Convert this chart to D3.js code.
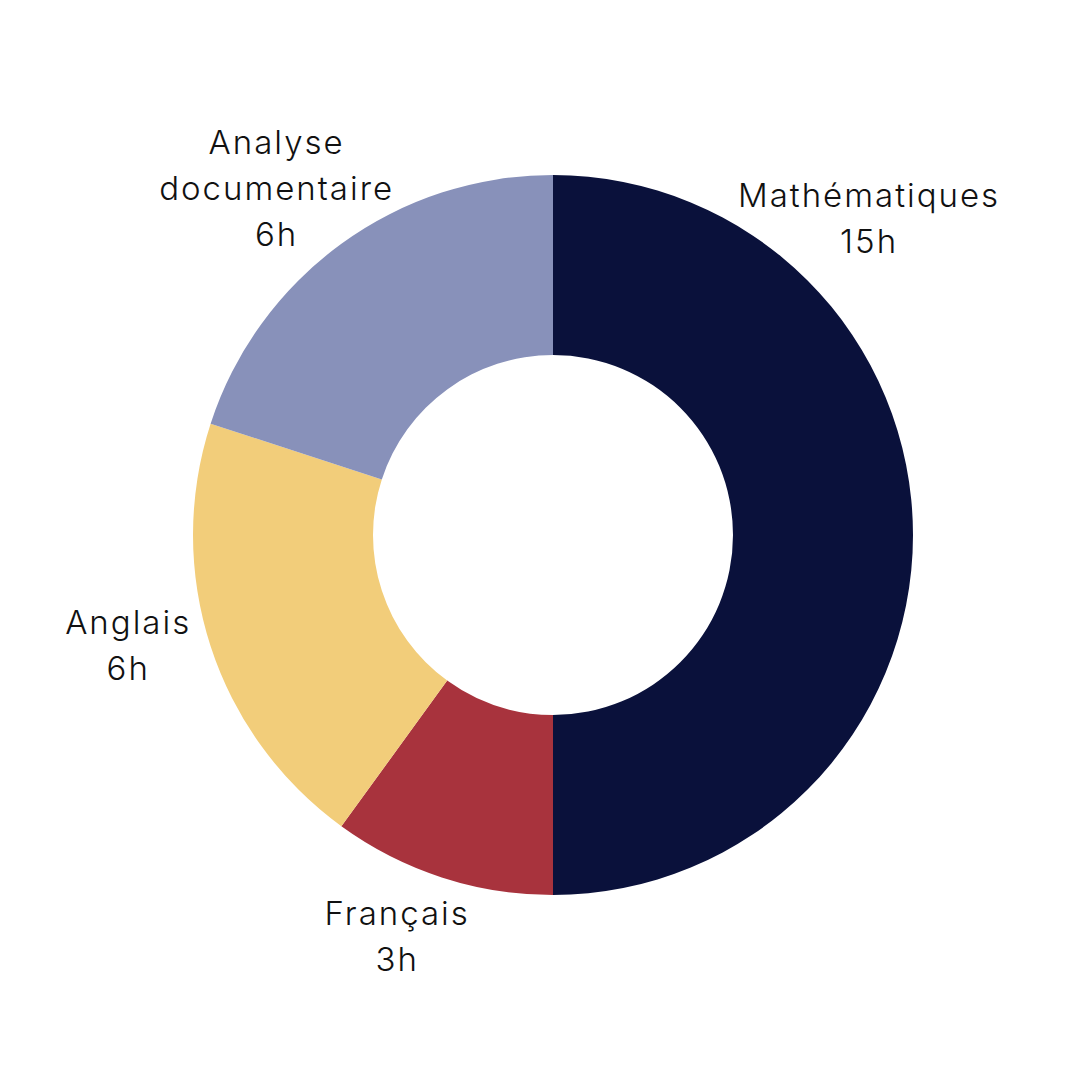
<!DOCTYPE html>
<html>
<head>
<meta charset="utf-8">
<script src="https://cdn.jsdelivr.net/npm/d3@7"></script>
<style>
  html, body { margin: 0; padding: 0; background: #fff; }
  svg text { font-family: "Inter", "Lato", sans-serif; font-weight: 300; fill: #111; letter-spacing: 2px; }
</style>
</head>
<body>
<div id="chart"></div>
<script>
// Data
const subjects = ["Mathématiques", "Français", "Anglais", "Analyse documentaire"];
const hours = [15, 3, 6, 6];
const labelLines = [["Mathématiques"], ["Français"], ["Anglais"], ["Analyse", "documentaire"]];
const colors = ["#0a113b", "#a8333d", "#f2cd7a", "#8891ba"];

// label placement tweaks (degrees off the slice middle, distance from centre)
const labelShift = [-45, 3.2, 3.4, -2.6];
const labelDist = [447, 431, 439, 443];

function drawDonut() {
    const width = 1080, height = 1080;
    const cx = 553, cy = 535;
    const outerR = 360, innerR = 180;

    const svg = d3.select("#chart")
        .append("svg")
        .attr("width", width)
        .attr("height", height)
        .append("g")
        .attr("transform", "translate(" + cx + "," + cy + ")");

    const data = subjects.map((s, i) => ({ subject: s, hours: hours[i], lines: labelLines[i], color: colors[i], i: i }));

    const pie = d3.pie().sort(null).value(d => d.hours);
    const arc = d3.arc().innerRadius(innerR).outerRadius(outerR);
    const arcs = pie(data);

    svg.selectAll("path")
        .data(arcs)
        .enter()
        .append("path")
        .attr("d", arc)
        .style("fill", d => d.data.color);

    const labelPos = d => {
        const a = (d.startAngle + d.endAngle) / 2 + labelShift[d.data.i] * Math.PI / 180;
        const r = labelDist[d.data.i];
        return [r * Math.sin(a), -r * Math.cos(a)];
    };

    const lineH = 46;
    const labels = svg.selectAll(".label")
        .data(arcs)
        .enter()
        .append("text")
        .attr("class", "label")
        .attr("text-anchor", "middle")
        .style("font-size", "33px")
        .attr("transform", d => "translate(" + labelPos(d) + ")");

    labels.each(function (d) {
        const lines = d.data.lines.concat([d.data.hours + "h"]);
        const t = d3.select(this);
        const y0 = -(lines.length - 1) * lineH / 2 + 11.5;
        lines.forEach((l, i) => {
            t.append("tspan").attr("x", 0).attr("y", y0 + i * lineH).text(l);
        });
    });
}

drawDonut();
</script>
</body>
</html>
